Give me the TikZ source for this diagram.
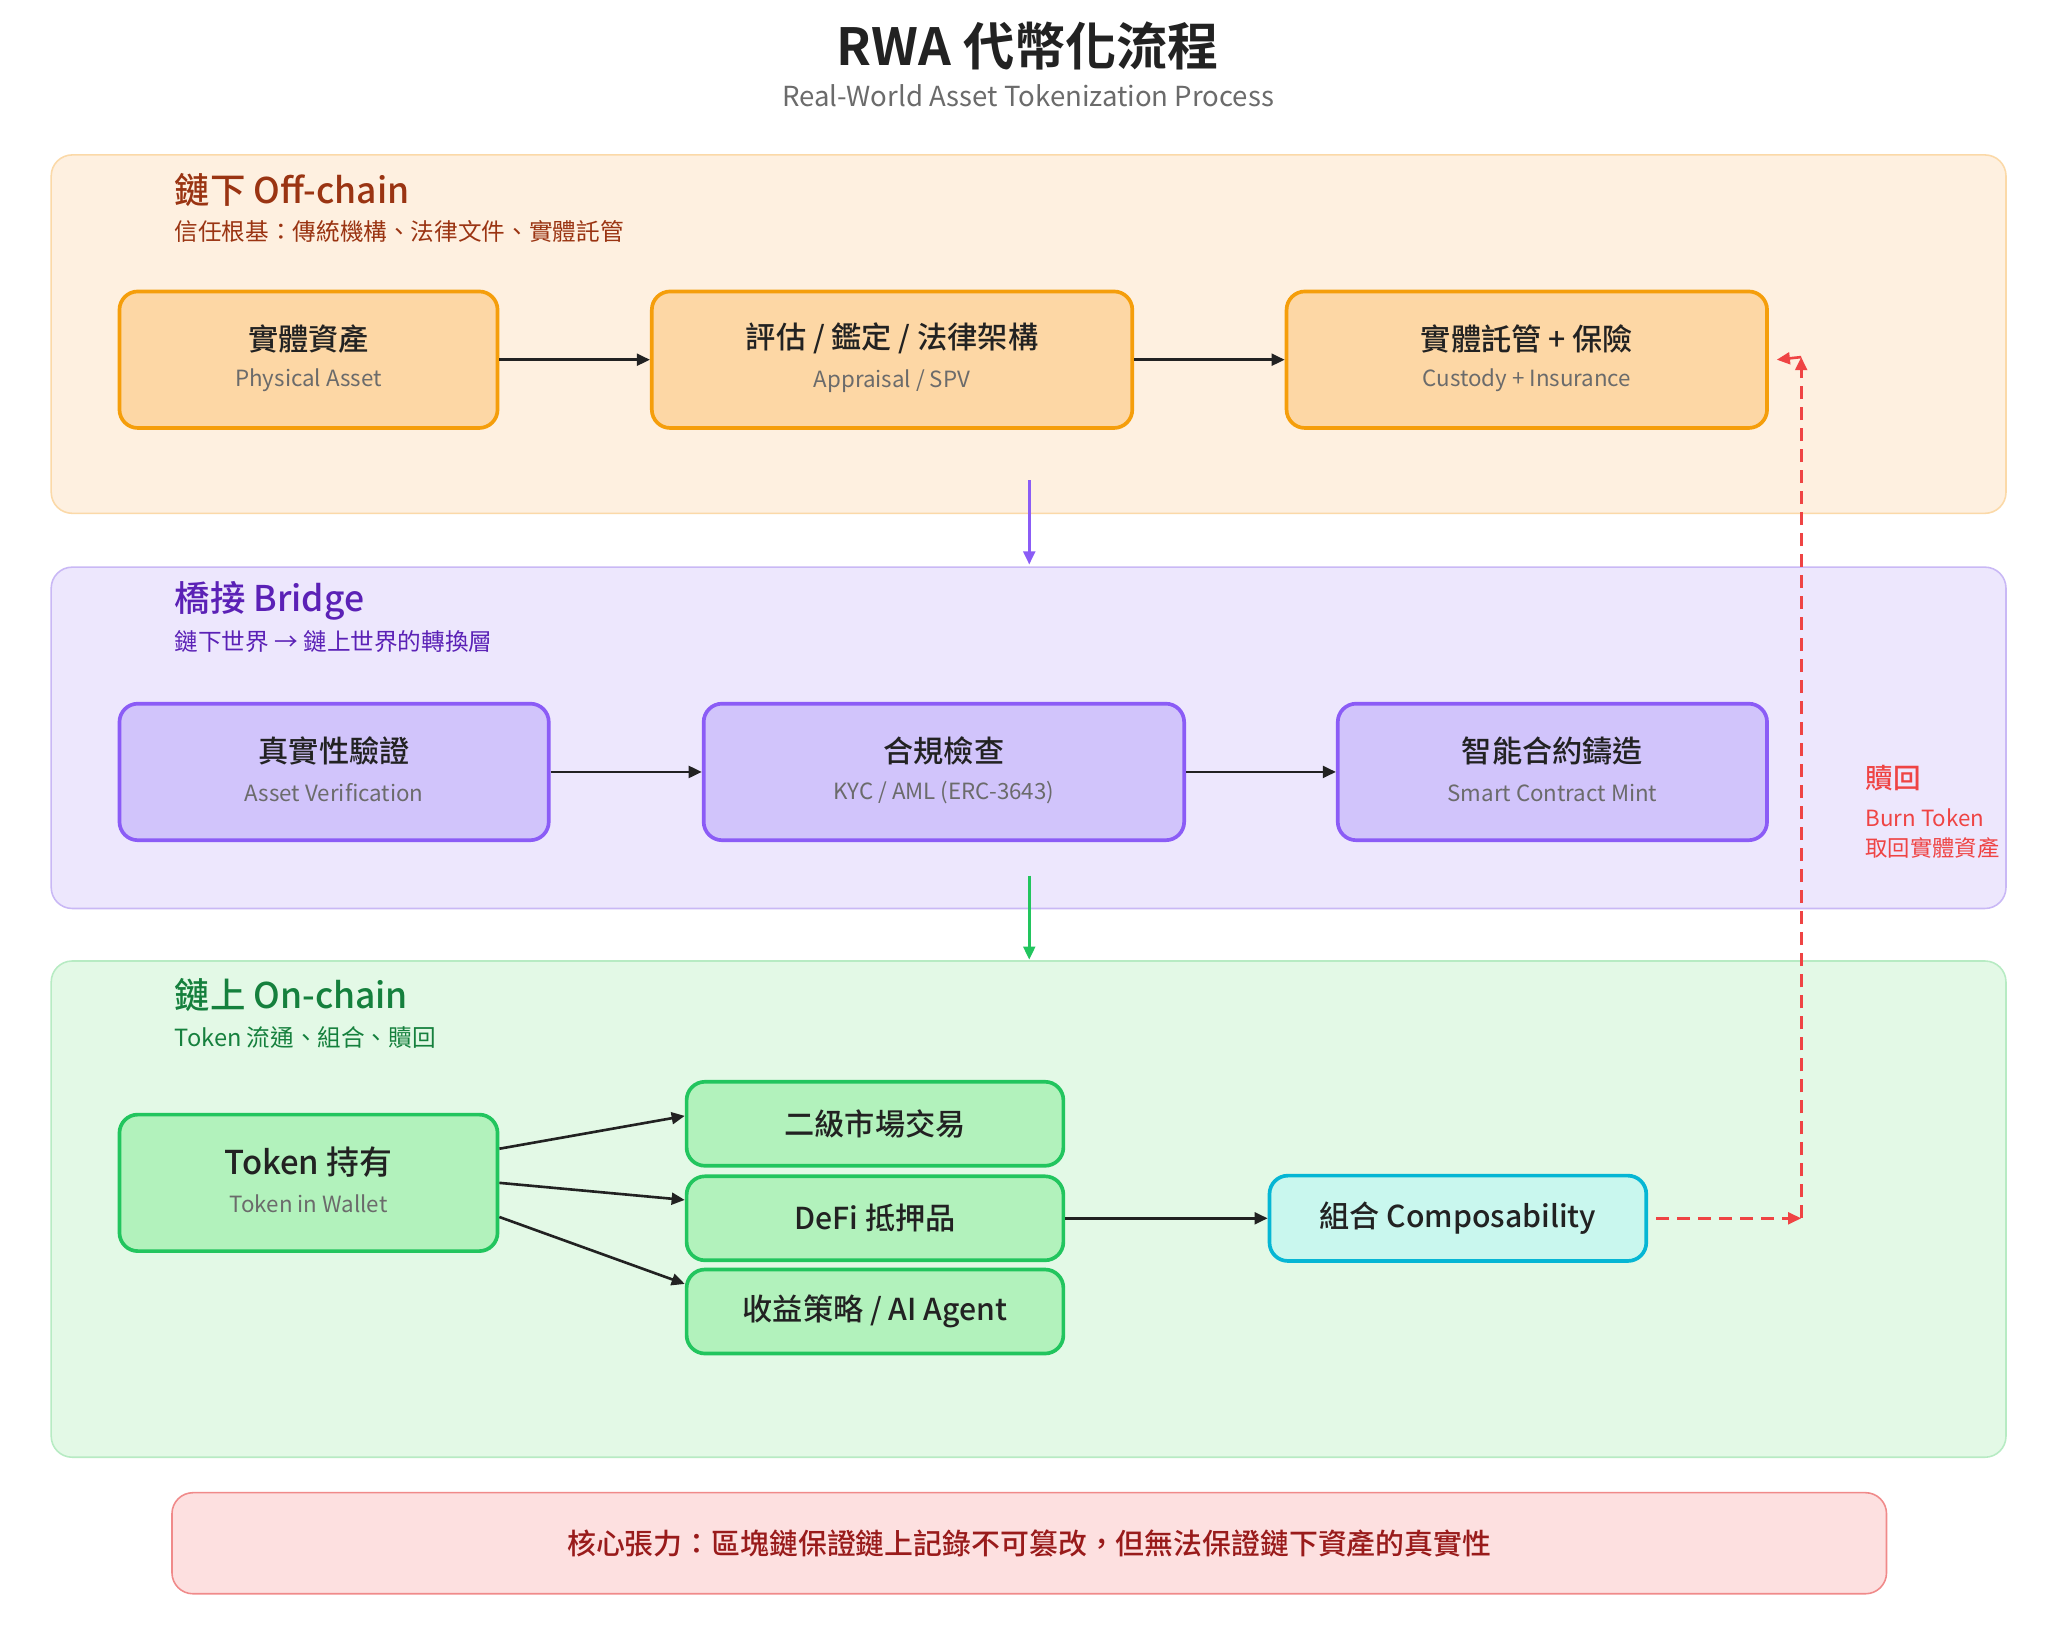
\documentclass[tikz,border=0pt]{standalone}
\usepackage{fontspec}
\setmainfont{Noto Sans CJK TC}[BoldFont={Noto Sans CJK TC Medium}]
\newfontfamily\heavyfont{Noto Sans CJK TC Bold}
\usetikzlibrary{arrows.meta,positioning}
\definecolor{offbg}{HTML}{FEF0E0}\definecolor{offln}{HTML}{FBD9A8}
\definecolor{offbox}{HTML}{FDD7A5}\definecolor{offbd}{HTML}{F59E0B}\definecolor{offtx}{HTML}{9A3412}
\definecolor{brbg}{HTML}{EDE7FD}\definecolor{brln}{HTML}{C9B8F5}
\definecolor{brbox}{HTML}{D1C4FB}\definecolor{brbd}{HTML}{8B5CF6}\definecolor{brtx}{HTML}{5B21B6}
\definecolor{onbg}{HTML}{E3F9E6}\definecolor{onln}{HTML}{B7EBC3}
\definecolor{onbox}{HTML}{B2F2BC}\definecolor{onbd}{HTML}{22C55E}\definecolor{ontx}{HTML}{15803D}
\definecolor{cmbox}{HTML}{C9F7EE}\definecolor{cmbd}{HTML}{06B6D4}
\definecolor{rd}{HTML}{EF4444}\definecolor{rdbg}{HTML}{FDE0E0}\definecolor{rdln}{HTML}{F08A8A}\definecolor{rdtx}{HTML}{991B1B}
\definecolor{txt}{HTML}{222222}\definecolor{gr}{HTML}{6B6B6B}
\tikzset{
 panel/.style={rounded corners=8pt,line width=0.6pt},
 box/.style={rounded corners=7pt,line width=1.4pt,inner sep=0pt},
 ttl/.style={anchor=west,font=\fontsize{13.5}{15}\selectfont\bfseries},
 sub/.style={anchor=west,font=\fontsize{9}{10}\selectfont},
 main/.style={font=\fontsize{11.5}{12}\selectfont\bfseries,text=txt},
 eng/.style={font=\fontsize{8.5}{10}\selectfont,text=gr},
 arr/.style={-{Triangle[length=5pt,width=4.5pt]},line width=1pt,txt}
}
\newcommand{\twoline}[3]{\node[main] at ([yshift=8pt]#1.center) {#2};
 \node[eng] at ([yshift=-8pt]#1.center) {#3};}
\begin{document}
\begin{tikzpicture}[x=0.5pt,y=-0.5pt]
\useasboundingbox (0,0) rectangle (1560,1248);
% title
\node[font=\fontsize{19.5}{21}\heavyfont,text=txt] (title) at (783,35) {RWA 代幣化流程};
\node[font=\fontsize{10.5}{12}\selectfont,text=gr] (stitle) at (783,73) {Real-World Asset Tokenization Process};
% panels
\draw[panel,fill=offbg,draw=offln] (39,118) rectangle (1528,391);
\draw[panel,fill=brbg,draw=brln] (39,432) rectangle (1528,692);
\draw[panel,fill=onbg,draw=onln] (39,732) rectangle (1528,1110);
\node[ttl,text=offtx] (toff) at (126,145) {鏈下 Off-chain};
\node[sub,text=offtx] (soff) at (126,176) {信任根基：傳統機構、法律文件、實體託管};
\node[ttl,text=brtx] (tbr) at (126,458) {橋接 Bridge};
\node[sub,text=brtx] (sbr) at (126,489) {鏈下世界 → 鏈上世界的轉換層};
\node[ttl,text=ontx] (ton) at (126,758) {鏈上 On-chain};
\node[sub,text=ontx] (son) at (126,790) {Token 流通、組合、贖回};
% off-chain
\node[box,fill=offbox,draw=offbd,minimum width=144pt,minimum height=52pt] (asset) at (235,274) {};
\node[box,fill=offbox,draw=offbd,minimum width=183pt,minimum height=52pt] (spv) at (679.5,274) {};
\node[box,fill=offbox,draw=offbd,minimum width=183pt,minimum height=52pt] (cust) at (1163,274) {};
\twoline{asset}{實體資產}{Physical Asset}
\twoline{spv}{評估 / 鑑定 / 法律架構}{Appraisal / SPV}
\twoline{cust}{實體託管 + 保險}{Custody + Insurance}
\draw[arr] (asset) -- (spv);
\draw[arr] (spv) -- (cust);
% bridge
\node[box,fill=brbox,draw=brbd,minimum width=163.5pt,minimum height=52pt] (verif) at (254.5,588) {};
\node[box,fill=brbox,draw=brbd,minimum width=183pt,minimum height=52pt] (kyc) at (719,588) {};
\node[box,fill=brbox,draw=brbd,minimum width=163.5pt,minimum height=52pt] (mint) at (1182.5,588) {};
\twoline{verif}{真實性驗證}{Asset Verification}
\twoline{kyc}{合規檢查}{KYC / AML (ERC-3643)}
\twoline{mint}{智能合約鑄造}{Smart Contract Mint}
\draw[arr] (verif) -- (kyc);
\draw[arr] (kyc) -- (mint);
% layer links
\coordinate (l1a) at (784,366); \coordinate (l1b) at (784,430);
\coordinate (l2a) at (784,667); \coordinate (l2b) at (784,731);
\draw[arr,brbd] (l1a) -- (l1b);
\draw[arr,onbd] (l2a) -- (l2b);
% on-chain
\node[box,fill=onbox,draw=onbd,minimum width=144pt,minimum height=52pt] (wallet) at (235,901) {};
\twoline{wallet}{\fontsize{12.5}{13}\selectfont Token 持有}{Token in Wallet}
\node[box,fill=onbox,draw=onbd,minimum width=143.5pt,minimum height=32pt,main] (sec) at (666.5,856) {二級市場交易};
\node[box,fill=onbox,draw=onbd,minimum width=143.5pt,minimum height=32pt,main] (defi) at (666.5,928) {DeFi 抵押品};
\node[box,fill=onbox,draw=onbd,minimum width=143.5pt,minimum height=32pt,main] (yield) at (666.5,999) {收益策略 / AI Agent};
\node[box,fill=cmbox,draw=cmbd,minimum width=143.5pt,minimum height=32.5pt,main] (comp) at (1110.5,928) {組合 Composability};
\draw[arr] ([yshift=13pt]wallet.east) -- ([yshift=3pt]sec.west);
\draw[arr] (wallet.east) -- ([yshift=7pt]defi.west);
\draw[arr] ([yshift=-13pt]wallet.east) -- ([yshift=10.5pt]yield.west);
\draw[arr] (defi) -- (comp);
% redeem
\coordinate (rb) at (1372,928); \coordinate (rt) at (1372,272);
\draw[arr,rd,dashed,dash pattern=on 5pt off 3pt] ([xshift=3pt]comp.east) -- (rb);
\draw[arr,rd,dashed,dash pattern=on 5pt off 3pt] (rb) -- (rt);
\draw[arr,rd] (rt) -- ([xshift=3pt]cust.east);
\node[anchor=west,text=rd,font=\fontsize{10.5}{12}\selectfont\bfseries] (rdm) at (1414,593) {贖回};
\node[anchor=west,text=rd,font=\fontsize{8.5}{11.5}\selectfont,align=left] (rdms) at (1414,635) {Burn Token\\取回實體資產};
% bottom note
\node[rounded corners=8pt,fill=rdbg,draw=rdln,line width=0.6pt,minimum width=653pt,minimum height=38.5pt,text=rdtx,font=\fontsize{11}{12}\selectfont\bfseries] (note) at (784,1175.5) {核心張力：區塊鏈保證鏈上記錄不可篡改，但無法保證鏈下資產的真實性};
\end{tikzpicture}
\end{document}
